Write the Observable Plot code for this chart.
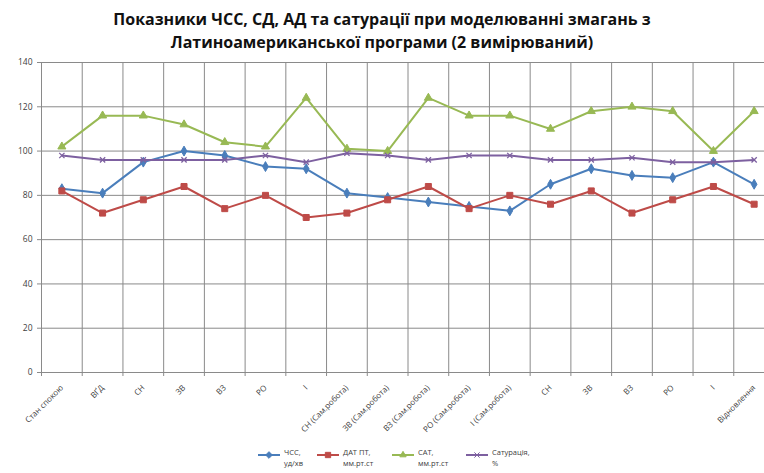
<!DOCTYPE html>
<html>
<head>
<meta charset="utf-8">
<script src="https://cdn.jsdelivr.net/npm/d3@7"></script>
<script src="https://cdn.jsdelivr.net/npm/@observablehq/plot@0.6"></script>
<style>
  html, body { margin: 0; padding: 0; background: #fff; overflow: hidden; }
  body { width: 764px; height: 473px; font-family: "Open Sans", sans-serif; }
  #title { height: 55px; box-sizing: border-box; padding-top: 8px; text-align: center;
           font-weight: bold; font-size: 16px; line-height: 23px; color: #111; }
  #chart svg { display: block; overflow: visible; }
  #legend { position: relative; height: 28px; font-size: 7.5px; color: #404040; }
  #legend .item { position: absolute; top: 2px; }
  #legend svg { position: absolute; top: 3px; left: 0; }
  #legend .lab { position: absolute; left: 0; top: 0; line-height: 11px; white-space: nowrap; }
</style>
</head>
<body>
<div id="title">Показники ЧСС, СД, АД та сатурації при моделюванні змагань з<br>Латиноамериканської програми (2 вимірюваний)</div>
<div id="chart"></div>
<div id="legend"></div>
<script>
// Stages of the measurement (x categories)
const categories = [
  "Стан спокою", "ВҐД", "СН", "ЗВ", "ВЗ", "РО", "І",
  "СН (Сам.робота)", "ЗВ (Сам.робота)", "ВЗ (Сам.робота)", "РО (Сам.робота)", "І (Сам.робота)",
  "СН", "ЗВ", "ВЗ", "РО", "І", "Відновлення"
];

// Heart rate, beats/min
const hr   = [83, 81, 95, 100, 98, 93, 92, 81, 79, 77, 75, 73, 85, 92, 89, 88, 95, 85];
// Diastolic pressure, mm Hg
const dbp  = [82, 72, 78, 84, 74, 80, 70, 72, 78, 84, 74, 80, 76, 82, 72, 78, 84, 76];
// Systolic pressure, mm Hg
const sbp  = [102, 116, 116, 112, 104, 102, 124, 101, 100, 124, 116, 116, 110, 118, 120, 118, 100, 118];
// Oxygen saturation, %
const spo2 = [98, 96, 96, 96, 96, 98, 95, 99, 98, 96, 98, 98, 96, 96, 97, 95, 95, 96];

const yTicks = [0, 20, 40, 60, 80, 100, 120, 140];

const series = [
  {name: ["ЧСС,", "уд/хв"],       values: hr,   color: "#4a7ebb", symbol: "diamond",  r: 3.0},
  {name: ["ДАТ ПТ,", "мм.рт.ст"], values: dbp,  color: "#be4b48", symbol: "square",   r: 3.4},
  {name: ["САТ,", "мм.рт.ст"],    values: sbp,  color: "#98b954", symbol: "triangle", r: 3.0},
  {name: ["Сатурація,", "%"],     values: spo2, color: "#7d60a0", symbol: "times",    r: 2.5}
];

const rows = s => s.values.map((v, i) => ({i, v}));
const grid = "#8a8a8a";

const marks = [
  Plot.ruleY(yTicks, {y: d => d, stroke: grid, strokeWidth: 1}),
  Plot.ruleX(d3.range(0, 18), {x: d => d, y1: 0, y2: 140, stroke: grid, strokeWidth: 1}),
  Plot.axisY({ticks: yTicks, tickSize: 4, tickPadding: 5, fontSize: 8.5, label: null,
              stroke: grid, color: "#404040"}),
  Plot.axisX({ticks: d3.range(0, 19), tickSize: 4, tickFormat: () => "", label: null, stroke: grid}),
  Plot.text(categories, {
    x: (d, i) => i + 0.5, y: () => 0, text: d => d,
    rotate: -45, textAnchor: "end", dx: 0, dy: 14, fontSize: 8, fill: "#404040"
  })
];

for (const s of series) {
  marks.push(Plot.line(rows(s), {x: d => d.i + 0.5, y: "v", stroke: s.color, strokeWidth: 2}));
  marks.push(Plot.dot(rows(s), {x: d => d.i + 0.5, y: "v", symbol: () => s.symbol, r: s.r,
    fill: s.symbol === "times" ? "none" : s.color, stroke: s.color, strokeWidth: s.symbol === "times" ? 1.3 : 1}));
}

const chart = Plot.plot({
  width: 764,
  height: 390,
  marginTop: 7,
  marginBottom: 73,
  marginLeft: 41,
  marginRight: 0,
  style: {fontFamily: "Open Sans, sans-serif", background: "transparent"},
  x: {type: "linear", domain: [0, 18], range: [41, 774], axis: null},
  y: {domain: [0, 140], axis: null},
  symbol: {type: "identity"},
  marks
});
document.getElementById("chart").append(chart);

// Legend under the plot
const symbols = {diamond: d3.symbolDiamond2, square: d3.symbolSquare2, triangle: d3.symbolTriangle2, times: d3.symbolTimes};
const legend = document.getElementById("legend");
const lx = [258, 317, 392, 466];
series.forEach((s, k) => {
  const item = document.createElement("div");
  item.className = "item";
  item.style.left = lx[k] + "px";
  const svg = d3.create("svg").attr("width", 24).attr("height", 10);
  svg.append("line").attr("x1", 0).attr("x2", 22).attr("y1", 5).attr("y2", 5)
    .attr("stroke", s.color).attr("stroke-width", 2);
  const sym = d3.symbol(symbols[s.symbol], s.r * s.r * Math.PI);
  svg.append("path").attr("d", sym()).attr("transform", "translate(11,5)")
    .attr("fill", s.symbol === "times" ? "none" : s.color).attr("stroke", s.color).attr("stroke-width", 1);
  item.append(svg.node());
  const lab = document.createElement("div");
  lab.className = "lab";
  lab.style.left = "26px";
  lab.innerHTML = s.name[0] + "<br>" + s.name[1];
  item.append(lab);
  legend.append(item);
});
</script>
</body>
</html>
